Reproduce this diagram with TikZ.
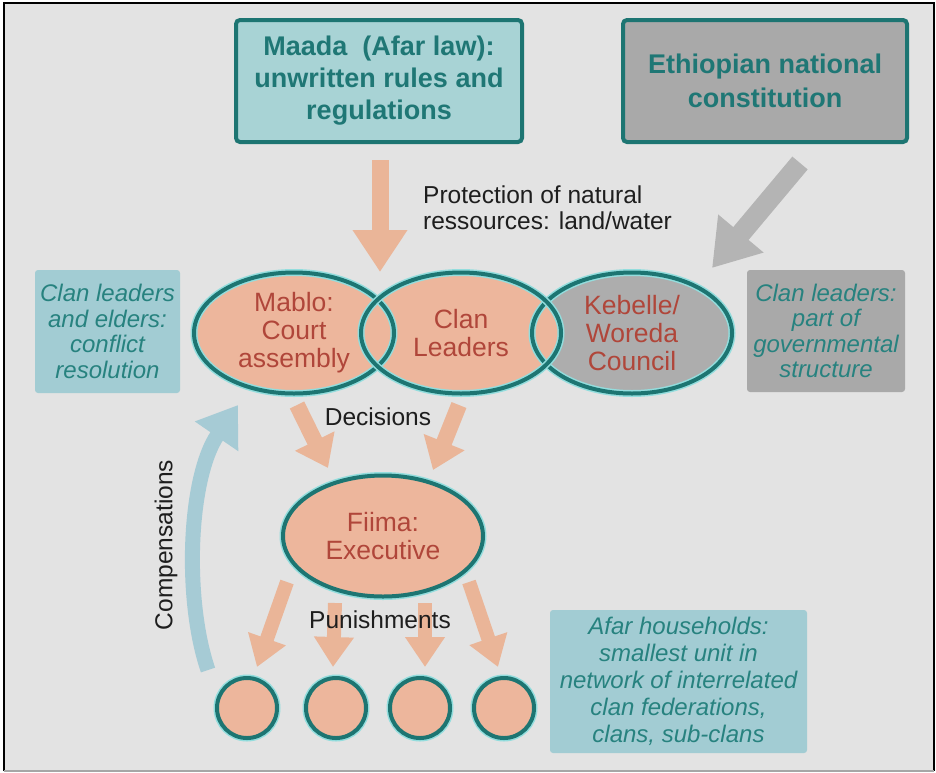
\documentclass[tikz,border=0pt]{standalone}
\usepackage{fontspec}
\setmainfont{Liberation Sans}
\usetikzlibrary{arrows.meta,shapes.geometric}
\definecolor{bg}{HTML}{E3E3E3}
\definecolor{tealdark}{HTML}{1D7572}
\definecolor{tealtext}{HTML}{1F7775}
\definecolor{notetext}{HTML}{27827F}
\definecolor{maadafill}{HTML}{A8D3D5}
\definecolor{notefill}{HTML}{A2CCD3}
\definecolor{grayfill}{HTML}{A9A9A9}
\definecolor{salmon}{HTML}{EDB69C}
\definecolor{kebgray}{HTML}{ADADAD}
\definecolor{arrowsal}{HTML}{EAB598}
\definecolor{arrowgray}{HTML}{B4B4B4}
\definecolor{compblue}{HTML}{A6CBD5}
\definecolor{redtext}{HTML}{B0463A}
\definecolor{halo}{HTML}{93DDDD}
\definecolor{lbltext}{HTML}{1E1E1E}
\tikzset{
  topbox/.style={rectangle, rounded corners=4pt, draw=tealdark, line width=4pt,
    minimum width=286pt, minimum height=122pt, inner sep=0pt, align=center,
    text=tealtext, font=\bfseries\fontsize{27}{32}\selectfont},
  note/.style={rectangle, rounded corners=3pt, fill=notefill, inner sep=0pt,
    align=center, text=notetext, font=\itshape\fontsize{24}{25.5}\selectfont},
  oval/.style={ellipse, minimum width=200pt, minimum height=121pt, inner sep=0pt,
    fill=salmon, align=center, text=redtext, font=\fontsize{26.5}{28}\selectfont},
  ring/.style={draw=tealdark, line width=4pt, preaction={draw=halo, line width=7pt}},
  hh/.style={circle, minimum size=60pt, inner sep=0pt, fill=salmon, ring},
  salarrow/.style={draw=arrowsal, line width=17pt, -{Triangle[length=42pt 0 0, width=52pt 0 0]}},
  decarrow/.style={draw=arrowsal, line width=16pt, -{Triangle[length=30pt 0 0, width=42pt 0 0]}},
  punarrow/.style={draw=arrowsal, line width=14pt, -{Triangle[length=30pt 0 0, width=38pt 0 0]}},
  grayarrow/.style={draw=arrowgray, line width=20pt, -{Triangle[length=45pt 0 0, width=56pt 0 0]}},
  comparrow/.style={draw=compblue, line width=15pt, -{Triangle[length=38pt 0 0, width=50pt 0 0]}},
  lbl/.style={text=lbltext, inner sep=0pt, align=left, font=\fontsize{24.5}{26}\selectfont},
}
\begin{document}
\begin{tikzpicture}[x=1pt,y=-1pt]
\useasboundingbox (0,0) rectangle (936,772);
\fill[white] (0,0) rectangle (936,772);
\fill[bg] (4,3) rectangle (934,771);
\draw[black, line width=2.5pt] (4,771) -- (4,3) -- (934,3) -- (934,771);
\draw[black!35, line width=1.5pt] (4,771) -- (934,771);

% top boxes
\node[topbox, fill=maadafill] (maada) at (379,81) {Maada~~(Afar law):\\unwritten rules and\\regulations};
\node[topbox, fill=grayfill, minimum width=284pt, font=\bfseries\fontsize{27}{34}\selectfont] (ethio) at (765,81) {Ethiopian national\\constitution};

% side notes
\node[note, minimum width=145pt, minimum height=123pt] (elders) at (107.5,331.5) {Clan leaders\\and elders:\\conflict\\resolution};
\node[note, fill=grayfill, minimum width=158pt, minimum height=122pt] (govt) at (826,331) {Clan leaders:\\part of\\governmental\\structure};
\node[note, minimum width=257pt, minimum height=143pt, font=\itshape\fontsize{24}{27}\selectfont] (afar) at (678.5,681.5) {Afar households:\\smallest unit in\\network of interrelated\\clan federations,\\clans, sub-clans};

% overlapping ovals
\node[oval, fill=kebgray] (kebelle) at (632,333) {Kebelle/\\Woreda\\Council};
\node[oval] (mablo) at (294,333) {Mablo:\\Court\\assembly};
\node[oval] (clan) at (461,333) {Clan\\Leaders};
\draw[ring] (kebelle.center) ellipse [x radius=100pt, y radius=60.5pt];
\draw[ring] (mablo.center) ellipse [x radius=100pt, y radius=60.5pt];
\draw[ring] (clan.center) ellipse [x radius=100pt, y radius=60.5pt];

% executive
\node[oval, ring] (fiima) at (383,536) {Fiima:\\Executive};

% households
\node[hh] (h1) at (247,708) {};
\node[hh] (h2) at (336,708) {};
\node[hh] (h3) at (420,708) {};
\node[hh] (h4) at (504,708) {};

% arrow end points
\coordinate (a0s) at (380,160);  \coordinate (a0e) at (380,272);
\coordinate (g0s) at (800,163);  \coordinate (g0e) at (712,268);
\coordinate (d1s) at (297,405);  \coordinate (d1e) at (328,468);
\coordinate (d2s) at (459,405);  \coordinate (d2e) at (433,470);
\coordinate (p1s) at (287,582);  \coordinate (p1e) at (257,667);
\coordinate (p2s) at (335,603);  \coordinate (p2e) at (333,667);
\coordinate (p3s) at (425,603);  \coordinate (p3e) at (425,667);
\coordinate (p4s) at (469,582);  \coordinate (p4e) at (498,667);
\coordinate (c0s) at (208,670);  \coordinate (c0e) at (238,405);

\draw[salarrow] (a0s) -- (a0e);
\draw[grayarrow] (g0s) -- (g0e);
\draw[decarrow] (d1s) -- (d1e);
\draw[decarrow] (d2s) -- (d2e);
\draw[punarrow] (p1s) -- (p1e);
\draw[punarrow] (p2s) -- (p2e);
\draw[punarrow] (p3s) -- (p3e);
\draw[punarrow] (p4s) -- (p4e);
\draw[comparrow] (c0s) .. controls (184,600) and (188,478) .. (c0e);

% labels
\node[lbl, anchor=west] (prot) at (423,208) {Protection of natural\\ressources: land/water};
\node[lbl] (decis) at (378,417) {Decisions};
\node[lbl] (pun) at (380,620) {Punishments};
\node[lbl, rotate=90] (comp) at (166,545) {Compensations};
\end{tikzpicture}
\end{document}
